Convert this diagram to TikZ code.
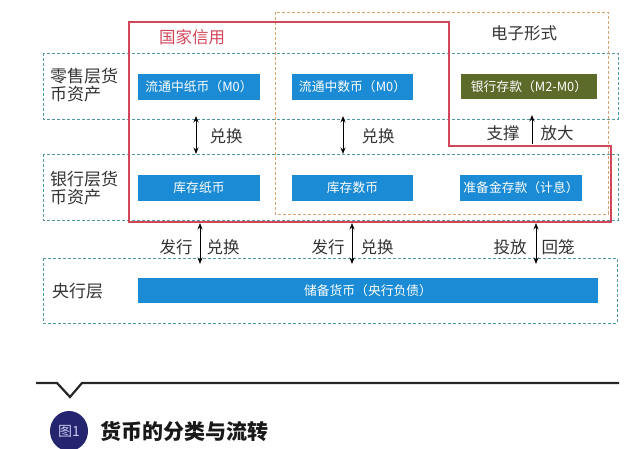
\documentclass[tikz,border=0pt]{standalone}
\usepackage{fontspec}
\setmainfont{Noto Sans CJK SC}
\usetikzlibrary{arrows.meta,shapes.geometric}
\definecolor{boxblue}{HTML}{1B8BD6}
\definecolor{boxolive}{HTML}{5C6A2A}
\definecolor{layerteal}{HTML}{4F9AA5}
\definecolor{credred}{HTML}{D2465A}
\definecolor{eorange}{HTML}{D9A070}
\definecolor{txtdark}{HTML}{333333}
\definecolor{navy}{HTML}{25246E}
\definecolor{lav}{HTML}{C8C8F0}
\tikzset{
  layer/.style={draw=layerteal, line width=0.9pt, dash pattern=on 3pt off 2pt},
  moneybox/.style={fill=boxblue, text=white, inner sep=0pt, font=\fontsize{12.8}{15}\selectfont},
  lbl/.style={text=txtdark, inner sep=0pt, font=\fontsize{16.5}{18}\selectfont},
  biarrow/.style={{Stealth[length=6.5pt,width=5pt]}-{Stealth[length=6.5pt,width=5pt]}, line width=1pt, draw=black},
  uparrow/.style={-{Stealth[length=6.5pt,width=5pt]}, line width=1pt, draw=black},
}
\begin{document}
\begin{tikzpicture}[x=1pt,y=-1pt]
\useasboundingbox (0,0) rectangle (640,449);
% layers
\draw[layer] (43,53) rectangle (618,119);
\draw[layer] (43,154) rectangle (618,220);
\draw[layer] (43,258) rectangle (617,323);
% electronic form (orange dashed)
\draw[eorange, line width=0.9pt, dash pattern=on 3pt off 2pt] (275,12) rectangle (608,214);
% national credit (red polygon)
\draw[credred, line width=1.1pt] (129,22) -- (449,22) -- (449,146) -- (611,146) -- (611,222) -- (129,222) -- cycle;
% titles
\node[lbl, text=credred] (gjxy) at (192,37) {国家信用};
\node[lbl] (dzxs) at (524,33) {电子形式};
% layer labels
\node[lbl, anchor=west, align=left, font=\fontsize{17}{18.5}\selectfont] (l1) at (50,85) {零售层货\\币资产};
\node[lbl, anchor=west, align=left, font=\fontsize{17}{18.5}\selectfont] (l2) at (50,188) {银行层货\\币资产};
\node[lbl, anchor=west, font=\fontsize{17}{18.5}\selectfont] (l3) at (52,291) {央行层};
% boxes row 1
\node[moneybox, minimum width=122pt, minimum height=26pt] (b1) at (199,87) {流通中纸币（M0）};
\node[moneybox, minimum width=121pt, minimum height=26pt] (b2) at (352.5,87) {流通中数币（M0）};
\node[moneybox, fill=boxolive, minimum width=136pt, minimum height=25pt] (b3) at (529,86.5) {银行存款（M2-M0）};
% boxes row 2
\node[moneybox, minimum width=122pt, minimum height=26pt] (c1) at (199,188) {库存纸币};
\node[moneybox, minimum width=121pt, minimum height=26pt] (c2) at (352.5,188) {库存数币};
\node[moneybox, minimum width=122pt, minimum height=26pt] (c3) at (521,188) {准备金存款（计息）};
% bar
\node[moneybox, minimum width=460pt, minimum height=25pt] (bar) at (368,290.5) {储备货币（央行负债）};
% arrow endpoints
\coordinate (a1t) at (196,116); \coordinate (a1b) at (196,154);
\coordinate (a2t) at (343,116); \coordinate (a2b) at (343,154);
\coordinate (a3t) at (532,115); \coordinate (a3b) at (532,144);
\coordinate (d1t) at (200,223); \coordinate (d1b) at (200,264);
\coordinate (d2t) at (352,223); \coordinate (d2b) at (352,264);
\coordinate (d3t) at (536,223); \coordinate (d3b) at (536,264);
\draw[biarrow] (a1t) -- (a1b);
\draw[biarrow] (a2t) -- (a2b);
\draw[uparrow] (a3b) -- (a3t);
\draw[biarrow] (d1t) -- (d1b);
\draw[biarrow] (d2t) -- (d2b);
\draw[biarrow] (d3t) -- (d3b);
% arrow labels
\node[lbl] (t1) at (226,136) {兑换};
\node[lbl] (t2) at (378,136) {兑换};
\node[lbl] (t3l) at (503,133) {支撑};
\node[lbl] (t3r) at (557,133) {放大};
\node[lbl] (u1l) at (176,247) {发行};
\node[lbl] (u1r) at (223,247) {兑换};
\node[lbl] (u2l) at (328,247) {发行};
\node[lbl] (u2r) at (377,247) {兑换};
\node[lbl] (u3l) at (510,247) {投放};
\node[lbl] (u3r) at (558,247) {回笼};
% bottom rule with notch
\draw[draw=black!85, line width=2.2pt, line join=miter] (36,383) -- (57,383) -- (70,397) -- (82,383) -- (619,383);
% caption
\node[ellipse, fill=navy, minimum width=38pt, minimum height=40pt, inner sep=0pt, text=lav, font=\fontsize{14}{15}\selectfont] (fig) at (69,431) {图1};
\node[anchor=west, inner sep=0pt, text=black!90, font=\fontsize{21}{24}\selectfont\bfseries] (cap) at (100,431) {货币的分类与流转};
\end{tikzpicture}
\end{document}
